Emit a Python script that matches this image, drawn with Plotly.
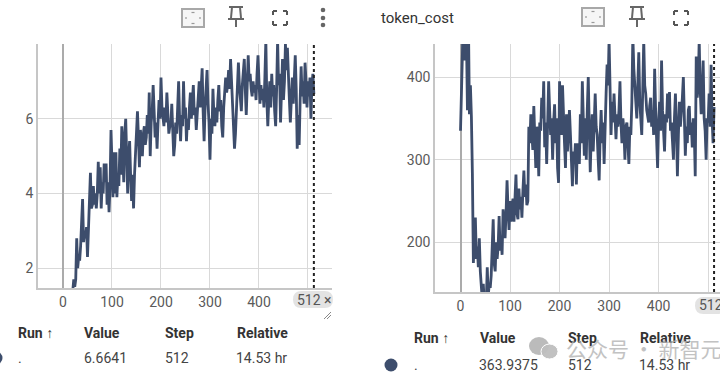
import plotly.graph_objects as go

reward_steps = list(range(20, 513, 2))
reward = [
 1.4,1.7,1.5,1.7,2.8,2.0,2.3,2.2,2.6,3.4,
 3.85,2.7,3.0,2.8,3.1,2.3,3.1,3.5,4.55,3.6,
 3.7,4.2,3.7,4.0,3.6,4.0,4.85,4.0,4.7,3.6,
 4.3,4.0,4.8,4.3,4.8,3.7,4.3,3.5,4.2,5.7,
 4.6,3.9,5.1,4.0,5.1,3.9,4.5,4.2,5.2,4.5,
 5.8,4.8,4.3,5.6,6.0,5.0,4.0,5.0,5.4,4.5,
 3.8,4.5,3.6,4.5,5.0,5.6,6.2,5.5,4.7,5.7,
 5.3,5.0,5.6,5.8,5.3,5.5,6.1,5.6,6.7,5.0,
 5.9,6.2,6.9,6.0,5.5,5.9,5.2,5.9,6.5,6.0,
 7.1,6.3,6.0,5.8,6.3,5.9,6.7,6.0,5.6,5.8,
 5.8,6.4,5.7,5.0,5.3,5.9,5.6,6.2,7.0,6.0,
 5.4,6.1,5.8,7.0,6.0,6.3,5.4,6.0,5.7,6.3,
 6.7,6.0,6.4,6.9,6.1,6.3,5.7,6.2,6.4,7.0,
 6.3,6.7,7.35,6.2,5.4,6.3,6.9,7.3,6.4,5.9,
 4.9,6.0,5.6,6.8,6.1,5.8,6.3,5.9,6.5,6.9,
 6.2,6.5,5.8,5.5,6.3,6.9,7.1,6.7,6.9,7.3,
 6.8,7.6,6.9,6.3,5.8,5.2,5.6,6.4,7.1,7.5,
 6.9,6.5,6.2,6.9,7.2,7.6,6.8,6.1,6.9,7.7,
 7.0,7.2,6.8,6.6,7.0,6.7,6.9,6.5,7.2,7.7,
 7.0,6.4,6.9,6.5,6.8,6.3,7.1,8.1,6.5,5.8,
 6.5,7.0,6.3,7.2,6.6,6.9,6.2,5.8,6.8,8.1,
 6.9,7.2,5.9,6.6,7.6,6.5,7.0,8.0,7.3,7.9,
 7.0,6.5,5.9,6.6,7.1,6.4,6.9,7.7,6.8,5.2,
 6.1,5.3,6.5,7.4,6.6,7.0,6.4,7.5,7.0,6.3,
 7.0,6.6,7.1,6.0,6.9,7.2,6.66,
]

token_steps = list(range(0, 513, 2))
token_cost = [
 335,415,460,480,420,470,450,360,470,355,
 390,352,283,175,210,230,180,195,170,205,
 165,140,130,150,128,135,125,170,135,150,
 145,160,195,228,175,165,200,180,195,232,
 190,205,185,240,225,205,235,275,240,215,
 250,225,245,253,225,260,282,235,228,265,
 240,255,230,262,287,255,270,245,250,340,
 320,355,330,312,365,335,290,340,325,280,
 345,335,375,350,395,315,345,295,350,395,
 360,330,350,300,345,367,320,350,290,272,
 395,350,330,390,340,320,290,355,310,335,
 360,330,300,268,310,295,320,270,320,310,
 295,355,320,395,340,305,350,300,360,400,
 340,285,330,355,310,365,380,340,330,300,
 275,330,360,320,345,295,355,380,415,390,
 445,375,330,370,345,380,340,325,355,340,
 360,395,345,320,350,335,300,340,345,320,
 295,340,330,370,450,410,395,370,350,390,
 430,370,345,330,385,445,390,380,360,350,
 345,365,375,340,360,330,410,360,320,290,
 345,370,335,420,360,340,310,355,345,380,
 350,382,335,345,320,300,350,380,340,280,
 330,370,340,355,375,400,345,305,340,320,
 360,365,330,345,315,350,335,280,425,375,
 390,445,385,355,380,420,350,335,300,350,
 345,380,340,415,350,320,363.94,
]

x_ticks = [0, 100, 200, 300, 400, 500]
x_tick_labels = ["0", "100", "200", "300", "400", ""]
reward_ticks = [2, 4, 6, 8]
reward_tick_labels = ["2", "4", "6", ""]
token_ticks = [200, 300, 400]
token_tick_labels = ["200", "300", "400"]
cursor_step = 512

table_heads = ["Run ↑", "Value", "Step", "Relative"]
reward_row = [".", "6.6641", "512", "14.53 hr"]
token_row = [".", "363.9375", "512", "14.53 hr"]

W, H = 720, 380
LINE = "#3d4d6c"
GRID = "#d9d9d9"
AXIS = "#c6c6c6"
ZERO = "#ababab"
TXT = "#444444"
FONT = "Roboto"

fig = go.Figure()
fig.add_trace(go.Scatter(x=reward_steps, y=reward, mode="lines", xaxis="x", yaxis="y",
                         line=dict(color=LINE, width=2.8), hoverinfo="skip", showlegend=False))
fig.add_trace(go.Scatter(x=token_steps, y=token_cost, mode="lines", xaxis="x2", yaxis="y2",
                         line=dict(color=LINE, width=2.8), hoverinfo="skip", showlegend=False))
fig.add_trace(go.Scatter(x=[], y=[], xaxis="x3", yaxis="y3", showlegend=False))


def xa(rng, dom):
    return dict(range=rng, domain=dom, tickmode="array", tickvals=x_ticks, showgrid=True,
                gridcolor=GRID, gridwidth=1.3, zeroline=True, zerolinecolor=ZERO, zerolinewidth=1.6,
                showline=True, linecolor=AXIS, linewidth=1.6, ticks="",
                tickfont=dict(family=FONT, size=14, color="#5a5a5a"), fixedrange=True)


def ya(rng, dom, tv, tt):
    return dict(range=rng, domain=dom, tickmode="array", tickvals=tv, ticktext=tt, showgrid=True,
                gridcolor=GRID, gridwidth=1.3, zeroline=False, showline=True, linecolor=AXIS,
                linewidth=1.6, ticks="", tickfont=dict(family=FONT, size=14, color="#5a5a5a"),
                fixedrange=True)


fig.update_layout(
    width=W, height=H, margin=dict(l=0, r=0, t=0, b=0),
    paper_bgcolor="white", plot_bgcolor="rgba(0,0,0,0)", showlegend=False,
    xaxis=dict(xa([-51, 549], [38 / W, 332 / W]), anchor="y", ticktext=x_tick_labels),
    yaxis=dict(ya([1.47, 8.0], [1 - 288 / H, 1 - 44 / H], reward_ticks, reward_tick_labels), anchor="x"),
    xaxis2=dict(xa([-51.5, 524], [435 / W, 1.0]), anchor="y2", ticktext=x_tick_labels),
    yaxis2=dict(ya([140, 440], [1 - 292 / H, 1 - 44 / H], token_ticks, token_tick_labels), anchor="x2"),
    xaxis3=dict(range=[0, W], domain=[0, 1], visible=False, anchor="y3", fixedrange=True),
    yaxis3=dict(range=[H, 0], domain=[0, 1], visible=False, anchor="x3", fixedrange=True),
)

shapes = []
annots = []


def px_shape(**k):
    k.setdefault("layer", "above")
    shapes.append(dict(xref="x3", yref="y3", **k))


def line(x0, y0, x1, y1, color="#777777", width=2):
    px_shape(type="line", x0=x0, y0=y0, x1=x1, y1=y1, line=dict(color=color, width=width))


def text(x, y, s, size=14, color=TXT, bold=False, anchor="left", opacity=1.0):
    annots.append(dict(xref="x3", yref="y3", x=x - 2, y=y, text=f"<b>{s}</b>" if bold else s, showarrow=False,
                       xanchor=anchor, yanchor="middle", opacity=opacity,
                       font=dict(family=FONT, size=size, color=color)))


def frame_icon(cx, cy):
    px_shape(type="rect", x0=cx - 11, y0=cy - 9, x1=cx + 11, y1=cy + 9,
             line=dict(color="#a8a8a8", width=2), fillcolor="#f6f6f6")
    line(cx - 1.5, cy - 5.5, cx + 1.5, cy - 5.5, "#999999", 1.2)
    line(cx - 1.5, cy + 5.5, cx + 1.5, cy + 5.5, "#999999", 1.2)
    line(cx - 7, cy - 1, cx - 7, cy + 1, "#999999", 1.2)
    line(cx + 7, cy - 1, cx + 7, cy + 1, "#999999", 1.2)


def pin_icon(cx, cy):
    line(cx - 7, cy - 10, cx + 7, cy - 10, "#666666", 2)
    line(cx - 4, cy - 10, cx - 5, cy + 1, "#666666", 2)
    line(cx + 4, cy - 10, cx + 5, cy + 1, "#666666", 2)
    line(cx - 8, cy + 2, cx + 8, cy + 2, "#666666", 2)
    line(cx, cy + 2, cx, cy + 10, "#666666", 2)


def full_icon(cx, cy):
    d, c = 7, 4
    for sx in (-1, 1):
        for sy in (-1, 1):
            line(cx + sx * d, cy + sy * d, cx + sx * (d - c), cy + sy * d, "#555555", 2)
            line(cx + sx * d, cy + sy * d, cx + sx * d, cy + sy * (d - c), "#555555", 2)


def dot(cx, cy, r, color):
    px_shape(type="circle", x0=cx - r, y0=cy - r, x1=cx + r, y1=cy + r,
             fillcolor=color, line=dict(width=0))


def chip(x0, x1, y0, y1):
    r = (y1 - y0) / 2
    path = (f"M {x0 + r} {y0} L {x1 - r} {y0} Q {x1} {y0} {x1} {y0 + r} "
            f"Q {x1} {y1} {x1 - r} {y1} L {x0 + r} {y1} Q {x0} {y1} {x0} {y0 + r} Q {x0} {y0} {x0 + r} {y0} Z")
    px_shape(type="path", path=path, fillcolor="#e3e3e3", line=dict(width=0))


# cursor lines
for xr, yr in (("x", "y domain"), ("x2", "y2 domain")):
    shapes.append(dict(type="line", xref=xr, yref=yr, x0=cursor_step, x1=cursor_step, y0=0, y1=1,
                       layer="above", line=dict(color="#222222", width=2, dash="dot")))

# headers
text(-2, 18, "ward", size=15, color="#333333")
text(381, 18, "token_cost", size=15, color="#333333")
frame_icon(193, 18)
pin_icon(236, 17)
full_icon(280, 18)
for yy in (10, 18, 25):
    dot(323, yy, 2.3, "#666666")
frame_icon(593, 17)
pin_icon(637, 17)
full_icon(681, 18)

# cursor chips
chip(293, 333, 291, 308)
text(297, 300, "512 ×", size=14, color="#555555")
chip(695, 726, 297, 314)
text(699, 305, "512", size=14, color="#555555")

# resize handle
line(324, 319, 331, 312, "#888888", 1)
line(327, 319, 331, 315, "#888888", 1)

# reward table
for xp, s in zip((18, 84, 165, 237), table_heads):
    text(xp, 333, s, color="#333333", bold=True)
for xp, s in zip((18, 84, 165, 236), reward_row):
    text(xp, 358, s)
dot(-4, 358, 6.5, LINE)

# token_cost table
for xp, s in zip((414, 480, 568, 640), table_heads):
    text(xp, 338, s, color="#333333", bold=True)
for xp, s in zip((414, 479, 568, 639), token_row):
    text(xp, 365, s)
dot(391, 365, 6.5, LINE)

# watermark
px_shape(type="circle", x0=529, y0=337, x1=549, y1=355, fillcolor="rgba(175,175,175,0.85)", line=dict(width=0))
px_shape(type="circle", x0=541, y0=344, x1=558, y1=359, fillcolor="rgba(190,190,190,0.95)", line=dict(color="white", width=1))
text(566, 348, "公众号\u2009·\u2009新智元", size=21, color="#b4b4b4", opacity=0.8)
annots[-1]["font"]["family"] = "Noto Sans CJK SC"

fig.update_layout(shapes=shapes, annotations=annots)
fig.write_html("out.html", post_script="document.body.style.margin='0';", config={"displayModeBar": False})
